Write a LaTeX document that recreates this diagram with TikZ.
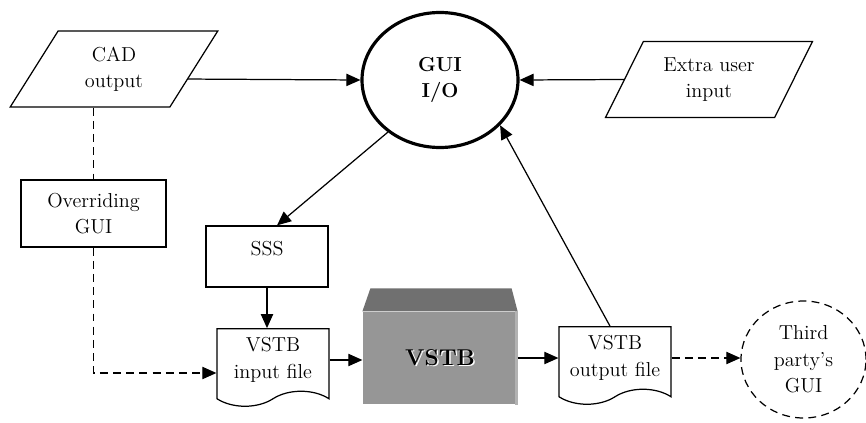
\documentclass[tikz,border=0pt]{standalone}
\usetikzlibrary{shapes.geometric,shapes.symbols,arrows.meta,calc}
\begin{document}
\begin{tikzpicture}[>={Triangle[length=8pt,width=7pt]}, line width=0.7pt,
    every node/.style={font=\fontsize{11.5}{15}\selectfont, align=center},
    inbox/.style={draw, trapezium, trapezium left angle=62, trapezium right angle=118,
        trapezium stretches=true, minimum width=4.16cm, minimum height=1.52cm},
    procbox/.style={draw, rectangle, minimum width=#1, minimum height=1.3cm},
    filebox/.style={draw, tape, tape bend top=none, tape bend bottom=in and out,
        tape bend height=0.3cm, minimum width=2.24cm, minimum height=1.55cm},
    dashline/.style={dash pattern=on 4.5pt off 3pt}]
    \useasboundingbox (0,0) rectangle (17.32,-8.46);

    % 1. Inputs and the GUI
    \node[inbox] (cad) at (2.28,-1.38) {CAD\\output};
    \node[draw, ellipse, line width=1.8pt, minimum width=3.12cm, minimum height=2.7cm,
        font=\fontsize{11.5}{15}\selectfont\bfseries] (gui) at (8.8,-1.6) {GUI\\I/O};
    \node[inbox] (extra) at (14.18,-1.59) {Extra user\\input};
    \node[procbox=2.9cm, minimum height=1.34cm] (ovr) at (1.87,-4.27) {Overriding\\GUI};
    \node[procbox=2.44cm, minimum height=1.22cm, text height=0.3cm, text depth=0.34cm]
        (sss) at (5.34,-5.13) {SSS};

    % 2. Files, the solver box and the external GUI
    \node[filebox] (infile) at (5.46,-7.2) {VSTB\\input file};
    \node[fill=black!41, minimum width=3.08cm, minimum height=1.84cm,
        font=\fontsize{13}{15}\selectfont\bfseries] (vstb) at (8.8,-7.16)
        {\makebox[0pt][l]{\hspace{0.9pt}\raisebox{-0.9pt}{\color{white}VSTB}}VSTB};
    \fill[black!56] (vstb.north west) -- ++(0.16,0.46)
        -- ($(vstb.north east)+(-0.12,0.46)$) -- (vstb.north east) -- cycle;
    \fill[black!30] ($(vstb.north east)+(-0.06,0)$) rectangle (vstb.south east);
    \node[filebox] (outfile) at (12.3,-7.16) {VSTB\\output file};
    \node[draw, ellipse, dashline, minimum width=2.5cm, minimum height=2.34cm]
        (third) at (16.07,-7.19) {Third\\party's\\GUI};

    % 3. Connectors
    \draw[->] ($(cad.bottom right corner)!0.37!(cad.top right corner)$) -- (gui.west);
    \draw[->] (extra.west) -- (gui.east);
    \draw[->] (gui.-135) -- ($(sss.north)+(0.2,0)$);
    \draw[->] (sss.south) -- (sss.south |- infile.north);
    \draw[->] (infile.east) -- (infile.east -| vstb.west);
    \draw[->] (vstb.east) -- (vstb.east -| outfile.west);
    \draw[->] ($(outfile.north)+(-0.1,0)$) -- (gui.-37);
    \draw[dashline] (ovr.north |- cad.south) -- (ovr.north);
    \draw[dashline, ->] (ovr.south) |- ($(infile.west)+(0,-0.26)$);
    \draw[dashline, ->] (outfile.east) -- (outfile.east -| third.west);
\end{tikzpicture}
\end{document}
